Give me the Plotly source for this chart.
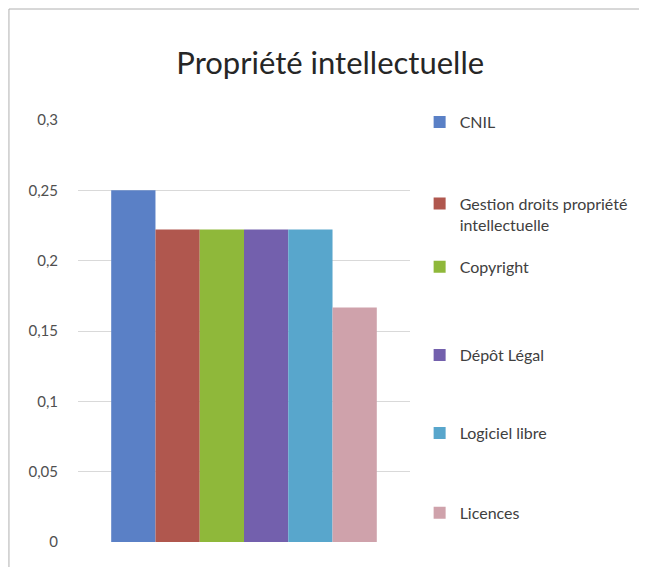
import plotly.graph_objects as go

categories = ["CNIL", "Gestion droits propriété<br>intellectuelle", "Copyright",
              "Dépôt Légal", "Logiciel libre", "Licences"]
values = [0.25, 0.2222, 0.2222, 0.2222, 0.2222, 0.1667]
colors = ["#5a80c6", "#b0574e", "#8fb83a", "#7360ad", "#58a6cc", "#cfa2ab"]
tick_vals = [0, 0.05, 0.1, 0.15, 0.2, 0.25, 0.3]

FONT = "Lato, Open Sans, sans-serif"

legend_y = [0.995, 0.777, 0.652, 0.443, 0.258, 0.069]
legend_names = ["legend"] + [f"legend{i}" for i in range(2, 7)]

fig = go.Figure()
for name, v, c, lg in zip(categories, values, colors, legend_names):
    fig.add_trace(go.Bar(x=["Propriété intellectuelle"], y=[v], name=name,
                         marker=dict(color=c, line=dict(width=0)),
                         legend=lg))

layout_legends = {}
for lg, ly in zip(legend_names, legend_y):
    layout_legends[lg] = dict(x=1.029, y=ly, xanchor="left", yanchor="middle",
                              valign="top",
                              font=dict(family=FONT, size=16, color="#404040"),
                              bgcolor="rgba(0,0,0,0)", borderwidth=0,
                              itemclick=False)

fig.update_layout(
    template="none",
    width=647, height=567,
    paper_bgcolor="white", plot_bgcolor="white",
    separators=", ",
    margin=dict(l=70, r=245, t=112, b=33),
    barmode="group", bargap=0.2, bargroupgap=0,
    title=dict(text="Propriété intellectuelle", x=0.498, xanchor="center",
               y=0.903, yanchor="middle",
               font=dict(family=FONT, size=31, color="#262626")),
    xaxis=dict(showticklabels=False, showgrid=False, showline=False,
               zeroline=False, automargin=False),
    yaxis=dict(range=[0, 0.3], tickvals=tick_vals, showgrid=True,
               gridcolor="#d9d9d9", gridwidth=1, zeroline=False,
               showline=False, ticks="", ticklabelstandoff=19,
               automargin=False,
               tickfont=dict(family=FONT, size=15, color="#505050")),
    showlegend=True,
    **layout_legends,
    shapes=[
        dict(type="line", xref="paper", yref="paper", x0=-0.208, x1=1.75,
             y0=1.263, y1=1.263, line=dict(color="#b0b0b0", width=1)),
        dict(type="line", xref="paper", yref="paper", x0=-0.208, x1=-0.208,
             y0=1.263, y1=-0.1, line=dict(color="#b0b0b0", width=1)),
    ],
)

fig.write_html("out.html")
